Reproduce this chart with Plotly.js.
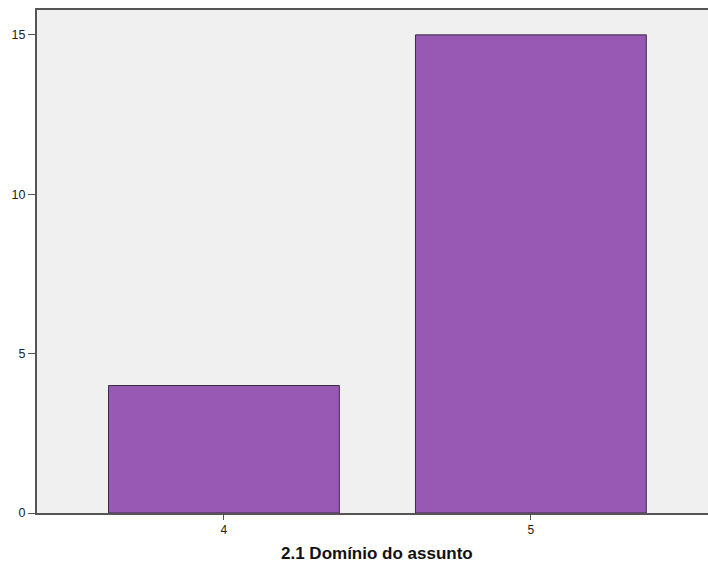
<!DOCTYPE html>
<html>
<head>
<meta charset="utf-8">
<script src="https://cdn.plot.ly/plotly-3.0.1.min.js"></script>
<style>html,body{margin:0;padding:0;background:#fff;}#chart{width:708px;height:569px;}</style>
</head>
<body>
<div id="chart"></div>
<script>
const categories = [4, 5];
const counts = [4, 15];
const xTitle = "2.1 Domínio do assunto";
const yTickVals = [0, 5, 10, 15];

const trace = {
  type: 'bar',
  x: categories,
  y: counts,
  width: 0.752,
  marker: {color: '#9759b3', line: {color: '#3b2b45', width: 1}},
  hoverinfo: 'x+y'
};

const layout = {
  width: 708, height: 569,
  margin: {l: 37, r: 0, t: 10, b: 56},
  paper_bgcolor: '#ffffff',
  plot_bgcolor: '#f0f0f0',
  showlegend: false,
  font: {family: 'Arial, Liberation Sans, sans-serif', size: 12, color: '#222'},
  xaxis: {
    range: [3.391, 5.577],
    tickvals: categories,
    ticktext: categories.map(String),
    ticks: 'outside', ticklen: 5, tickwidth: 1, tickcolor: '#555',
    showline: true, linecolor: '#555', linewidth: 2, mirror: true,
    showgrid: false, zeroline: false,
    tickfont: {size: 12, color: '#222'}
  },
  yaxis: {
    range: [0, 15.78],
    tickvals: yTickVals,
    ticks: 'outside', ticklen: 7, tickwidth: 1, tickcolor: '#555',
    showline: true, linecolor: '#555', linewidth: 2,
    showgrid: false, zeroline: false,
    tickfont: {size: 12.5, color: '#222'}
  },
  annotations: [{
    text: '<b>' + xTitle + '</b>',
    xref: 'x', x: 4.5, yref: 'paper', y: 0, yshift: -40,
    xanchor: 'center', yanchor: 'middle', showarrow: false,
    font: {size: 17, color: '#111'}
  }],
  bargap: 0
};

Plotly.newPlot('chart', [trace], layout, {displayModeBar: false, staticPlot: true});
</script>
</body>
</html>
